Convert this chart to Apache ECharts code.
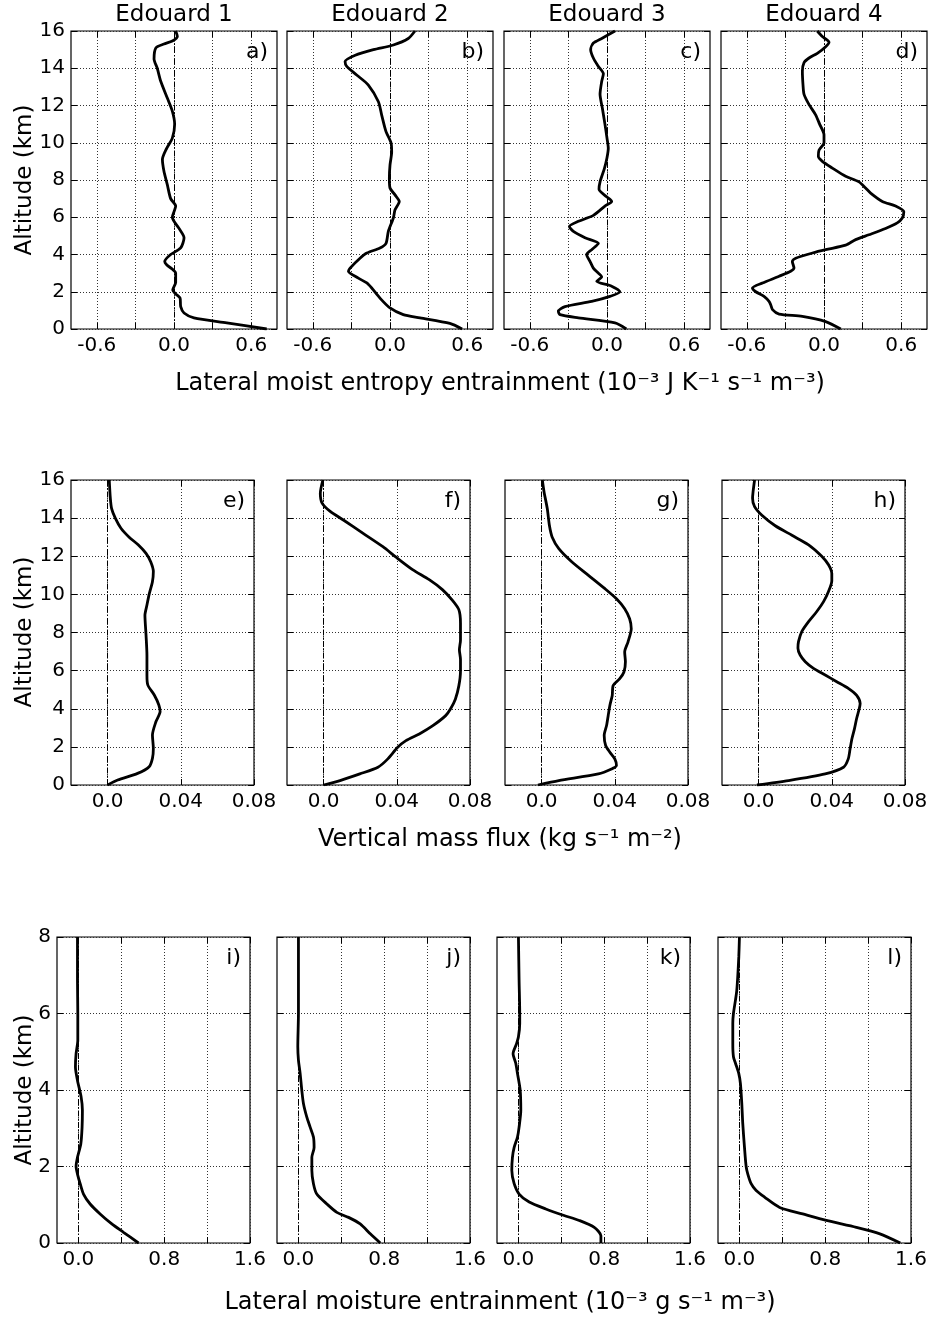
<!DOCTYPE html>
<html lang="en">
<head>
<meta charset="UTF-8">
<title>Edouard profiles</title>
<script src="https://cdn.jsdelivr.net/npm/echarts@6/dist/echarts.min.js"></script>
</head>
<body style="margin:0;background:#fff">
<div id="main" style="width:932px;height:1320px;"></div>
<script>
// [value, altitude km]
var entropy1 = [[0.72,0],[0.41,0.33],[0.155,0.6],[0.078,0.86],[0.052,1.2],[0.047,1.66],[0.01,1.9],[-0.01,2.1],[0.013,2.5],[0.013,3.0],[-0.057,3.45],[-0.072,3.63],[-0.026,4.0],[0.052,4.35],[0.078,4.9],[0.039,5.4],[-0.013,6.0],[0.013,6.6],[-0.026,7.0],[-0.052,7.75],[-0.078,8.47],[-0.09,9.1],[-0.057,9.7],[-0.013,10.25],[0.005,11.0],[-0.013,11.7],[-0.052,12.4],[-0.103,13.3],[-0.13,14.0],[-0.155,14.5],[-0.14,15.1],[-0.078,15.3],[-0.013,15.46],[0.026,15.7],[0.013,16.0]];
var entropy2 = [[0.56,0],[0.465,0.3],[0.233,0.6],[0.103,0.77],[0.0,1.13],[-0.078,1.66],[-0.142,2.2],[-0.18,2.47],[-0.246,2.73],[-0.323,3.1],[-0.31,3.27],[-0.233,3.8],[-0.18,4.08],[-0.078,4.35],[-0.031,4.6],[-0.013,5.24],[0.026,5.96],[0.039,6.4],[0.072,6.85],[0.039,7.2],[0.0,7.57],[-0.005,8.1],[0.0,8.8],[0.013,9.5],[0.008,10.0],[-0.031,10.6],[-0.065,11.5],[-0.09,12.2],[-0.168,13.1],[-0.259,13.64],[-0.336,14.1],[-0.349,14.36],[-0.27,14.7],[-0.129,15.0],[0.026,15.25],[0.142,15.6],[0.194,16.0]];
var entropy3 = [[0.15,0],[0.062,0.33],[-0.222,0.6],[-0.365,0.77],[-0.378,0.95],[-0.326,1.2],[-0.119,1.48],[0.023,1.75],[0.10,2.0],[0.036,2.3],[-0.08,2.56],[-0.041,2.8],[-0.067,3.0],[-0.106,3.27],[-0.132,3.63],[-0.158,4.0],[-0.119,4.26],[-0.067,4.6],[-0.171,4.9],[-0.261,5.24],[-0.292,5.5],[-0.222,5.78],[-0.106,6.1],[-0.016,6.6],[0.036,6.85],[-0.003,7.1],[-0.062,7.5],[-0.054,7.9],[-0.021,8.6],[0,9.2],[0.01,9.7],[0,10.25],[-0.016,11.0],[-0.036,11.85],[-0.054,12.6],[-0.041,13.3],[-0.028,13.7],[-0.067,14.1],[-0.106,14.55],[-0.127,15.0],[-0.106,15.35],[-0.041,15.6],[0.062,16.0]];
var entropy4 = [[0.13,0],[0.013,0.4],[-0.168,0.68],[-0.349,0.8],[-0.40,1.04],[-0.414,1.3],[-0.427,1.48],[-0.466,1.75],[-0.53,2.0],[-0.556,2.2],[-0.478,2.47],[-0.349,2.83],[-0.259,3.1],[-0.233,3.27],[-0.246,3.63],[-0.22,3.8],[-0.09,4.08],[0.013,4.26],[0.168,4.5],[0.246,4.8],[0.349,5.06],[0.478,5.4],[0.569,5.7],[0.608,5.96],[0.62,6.3],[0.556,6.6],[0.453,6.85],[0.362,7.3],[0.323,7.57],[0.272,7.9],[0.168,8.2],[0.065,8.64],[-0.013,9.0],[-0.044,9.27],[-0.039,9.6],[0,10.0],[0,10.43],[-0.034,11.0],[-0.065,11.5],[-0.116,12.05],[-0.155,12.6],[-0.163,13.1],[-0.168,13.84],[-0.155,14.3],[-0.116,14.55],[-0.052,14.8],[0.013,15.16],[0.039,15.4],[-0.013,15.7],[-0.052,16.0]];

var massFlux1 = [[0,0],[0.0055,0.26],[0.0164,0.61],[0.0227,0.96],[0.0245,1.4],[0.025,1.92],[0.0245,2.62],[0.0264,3.32],[0.0287,3.85],[0.028,4.2],[0.0255,4.72],[0.022,5.24],[0.0215,5.76],[0.0215,6.8],[0.021,7.87],[0.0204,8.9],[0.0215,9.44],[0.0227,10.0],[0.0245,10.66],[0.025,11.2],[0.0236,11.7],[0.021,12.15],[0.0167,12.6],[0.0118,13.0],[0.0073,13.47],[0.0042,14.0],[0.0022,14.5],[0.0015,15.04],[0.0009,16]];
var massFlux2 = [[0,0],[0.009,0.23],[0.0198,0.58],[0.0297,0.93],[0.0351,1.37],[0.0405,1.98],[0.045,2.33],[0.0523,2.68],[0.0595,3.1],[0.0667,3.64],[0.0694,4.0],[0.072,4.5],[0.0739,5.2],[0.0748,5.97],[0.0748,6.6],[0.0742,7.1],[0.0748,7.6],[0.0748,8.5],[0.0739,9.2],[0.0703,9.7],[0.0649,10.25],[0.0577,10.77],[0.0486,11.3],[0.0396,11.95],[0.0324,12.5],[0.0216,13.2],[0.0108,13.9],[0.0036,14.35],[-0.0009,14.8],[-0.0018,15.3],[-0.0004,16]];
var massFlux3 = [[-0.002,0],[0.0094,0.23],[0.031,0.58],[0.0382,0.84],[0.0409,1.02],[0.04,1.37],[0.0373,1.72],[0.035,2.07],[0.0342,2.6],[0.0355,3.12],[0.0364,3.65],[0.0373,4.17],[0.0386,4.7],[0.0391,5.22],[0.0427,5.58],[0.045,5.93],[0.0458,6.46],[0.0454,6.98],[0.0472,7.5],[0.049,8.2],[0.0481,8.72],[0.0454,9.25],[0.0409,9.77],[0.0346,10.3],[0.0256,11.0],[0.0166,11.7],[0.0094,12.4],[0.0058,13.0],[0.0043,13.6],[0.0031,14.5],[0.0013,15.4],[0.0004,16]];
var massFlux4 = [[-0.0009,0],[0.0164,0.23],[0.0364,0.58],[0.0464,0.93],[0.049,1.37],[0.05,1.9],[0.051,2.43],[0.0524,2.96],[0.0536,3.5],[0.055,4.0],[0.0555,4.27],[0.0536,4.7],[0.049,5.07],[0.0427,5.42],[0.0364,5.77],[0.03,6.12],[0.0255,6.47],[0.0227,6.82],[0.0215,7.17],[0.0218,7.52],[0.0236,8.05],[0.0273,8.57],[0.0318,9.1],[0.0355,9.62],[0.0382,10.15],[0.04,10.7],[0.04,11.1],[0.0382,11.55],[0.0345,12.0],[0.0273,12.6],[0.0182,13.1],[0.0091,13.6],[0.0018,14.15],[-0.0022,14.6],[-0.0033,15.04],[-0.003,15.4],[-0.0022,16]];

var moisture1 = [[0.56,0],[0.42,0.28],[0.311,0.5],[0.202,0.76],[0.109,1.02],[0.047,1.28],[0.016,1.55],[-0.009,1.8],[-0.022,2.0],[-0.009,2.24],[0.022,2.59],[0.034,3.03],[0.037,3.47],[0.025,3.82],[-0.009,4.25],[-0.028,4.6],[-0.022,4.95],[-0.006,5.3],[-0.006,6.0],[-0.009,6.87],[-0.009,8]];
var moisture2 = [[0.763,0],[0.67,0.24],[0.576,0.5],[0.467,0.67],[0.358,0.8],[0.265,1.02],[0.171,1.28],[0.14,1.55],[0.125,1.9],[0.125,2.24],[0.146,2.5],[0.14,2.77],[0.109,3.03],[0.078,3.29],[0.047,3.64],[0.031,4.0],[0.016,4.43],[0,4.78],[-0.006,5.13],[0,6.0],[0,8]];
var moisture3 = [[0.769,0],[0.769,0.19],[0.707,0.41],[0.567,0.59],[0.426,0.72],[0.255,0.89],[0.10,1.07],[0.006,1.28],[-0.04,1.55],[-0.062,1.9],[-0.056,2.24],[-0.04,2.5],[-0.009,2.77],[0.006,3.03],[0.022,3.47],[0.016,4.0],[-0.009,4.43],[-0.025,4.7],[-0.05,4.95],[-0.019,5.2],[0,5.39],[0.012,5.74],[0.012,6.0],[0.006,6.87],[0,8]];
var moisture4 = [[1.5,0],[1.31,0.24],[1.09,0.41],[0.81,0.59],[0.59,0.76],[0.375,0.93],[0.234,1.2],[0.156,1.37],[0.109,1.55],[0.078,1.8],[0.0625,2.0],[0.047,2.5],[0.031,3.12],[0.022,3.64],[0.009,4.17],[-0.006,4.43],[-0.037,4.7],[-0.056,4.87],[-0.062,5.2],[-0.062,5.74],[-0.056,6.0],[-0.037,6.35],[-0.025,6.6],[-0.016,6.96],[-0.006,7.48],[0,8]];

var caseNames = ['Edouard 1', 'Edouard 2', 'Edouard 3', 'Edouard 4'];
var panelLetters = ['a)','b)','c)','d)','e)','f)','g)','h)','i)','j)','k)','l)'];
var xTitles = [
    'Lateral moist entropy entrainment (10⁻³ J K⁻¹ s⁻¹ m⁻³)',
    'Vertical mass flux (kg s⁻¹ m⁻²)',
    'Lateral moisture entrainment (10⁻³ g s⁻¹ m⁻³)'
];
var entropyTicks = [-0.6, -0.3, 0, 0.3, 0.6], entropyLabels = [-0.6, 0, 0.6];
var fluxTicks = [0, 0.04, 0.08], fluxLabels = [0, 0.04, 0.08];
var moistTicks = [0, 0.4, 0.8, 1.2, 1.6], moistLabels = [0, 0.8, 1.6];

var FONT = 'DejaVu Sans';

var rows = [
    { top: 31, height: 298, lefts: [71, 287, 504, 721], width: 206, xmin: -0.8, xmax: 0.8, ymax: 16,
      ticks: entropyTicks, labels: entropyLabels, digits: 1, data: [entropy1, entropy2, entropy3, entropy4],
      xTitleY: 384, yTitleY: 180 },
    { top: 480, height: 305, lefts: [71, 287, 505, 722], width: 183, xmin: -0.02, xmax: 0.08, ymax: 16,
      ticks: fluxTicks, labels: fluxLabels, digits: 2, data: [massFlux1, massFlux2, massFlux3, massFlux4],
      xTitleY: 840, yTitleY: 632 },
    { top: 937, height: 306, lefts: [57, 277, 497, 718], width: 193, xmin: -0.2, xmax: 1.6, ymax: 8,
      ticks: moistTicks, labels: moistLabels, digits: 1, data: [moisture1, moisture2, moisture3, moisture4],
      xTitleY: 1303, yTitleY: 1090 }
];

var chart = echarts.init(document.getElementById('main'));
var grids = [], xAxes = [], yAxes = [], series = [], graphics = [];
var tickStyle = { inside: true, length: 6, lineStyle: { color: '#000', width: 1 } };
var gridLine = { show: true, lineStyle: { color: '#333', width: 1, type: [1, 2] } };
var noLine = { show: false, onZero: false };

rows.forEach(function (row, r) {
    row.lefts.forEach(function (left, c) {
        var gi = grids.length;
        grids.push({
            left: left, top: row.top, width: row.width, height: row.height,
            show: true, borderColor: '#000', borderWidth: 1.2, backgroundColor: 'transparent',
            containLabel: false, outerBoundsMode: 'none'
        });
        var digits = row.digits;
        // bottom x axis (with labels) + top x axis (ticks only)
        xAxes.push({
            type: 'value', gridIndex: gi, min: row.xmin, max: row.xmax, position: 'bottom',
            axisLine: noLine,
            axisTick: Object.assign({ customValues: row.ticks }, tickStyle),
            splitLine: gridLine,
            axisLabel: {
                customValues: row.labels, margin: 7, color: '#000', fontSize: 20, fontFamily: FONT,
                formatter: function (v) { return v === 0 ? '0.0' : v.toFixed(digits); }
            }
        });
        xAxes.push({
            type: 'value', gridIndex: gi, min: row.xmin, max: row.xmax, position: 'top',
            axisLine: noLine, splitLine: { show: false }, axisLabel: { show: false },
            axisTick: Object.assign({ customValues: row.ticks }, tickStyle)
        });
        yAxes.push({
            type: 'value', gridIndex: gi, min: 0, max: row.ymax, interval: 2, position: 'left',
            axisLine: noLine, axisTick: tickStyle, splitLine: gridLine,
            axisLabel: { show: c === 0, margin: 6, color: '#000', fontSize: 20, fontFamily: FONT }
        });
        yAxes.push({
            type: 'value', gridIndex: gi, min: 0, max: row.ymax, interval: 2, position: 'right',
            axisLine: noLine, axisTick: tickStyle, splitLine: { show: false },
            axisLabel: { show: false }
        });
        series.push({
            type: 'line', xAxisIndex: 2 * gi, yAxisIndex: 2 * gi,
            data: row.data[c], showSymbol: false, smooth: 0.25, silent: true,
            lineStyle: { color: '#000', width: 2.8 },
            markLine: {
                silent: true, symbol: ['none', 'none'], label: { show: false },
                lineStyle: { color: '#000', width: 1, type: [6, 2, 1.5, 2] },
                data: [{ xAxis: 0 }]
            }
        });
        graphics.push({
            type: 'text', x: left + row.width - 9, y: row.top + 10,
            style: { text: panelLetters[gi], fontSize: 22, fontFamily: FONT, fill: '#000', align: 'right', verticalAlign: 'top' }
        });
        if (r === 0) {
            graphics.push({
                type: 'text', x: left + row.width / 2, y: 15,
                style: { text: caseNames[c], fontSize: 23, fontFamily: FONT, fill: '#000', align: 'center', verticalAlign: 'middle' }
            });
        }
    });
    graphics.push({
        type: 'text', x: 500, y: row.xTitleY,
        style: { text: xTitles[r], fontSize: 24, fontFamily: FONT, fill: '#000', align: 'center', verticalAlign: 'middle' }
    });
    graphics.push({
        type: 'text', x: 25, y: row.yTitleY, rotation: Math.PI / 2,
        style: { text: 'Altitude (km)', fontSize: 23, fontFamily: FONT, fill: '#000', align: 'center', verticalAlign: 'middle' }
    });
});

chart.setOption({
    backgroundColor: '#fff',
    animation: false,
    grid: grids,
    xAxis: xAxes,
    yAxis: yAxes,
    series: series,
    graphic: graphics
});
</script>
</body>
</html>
